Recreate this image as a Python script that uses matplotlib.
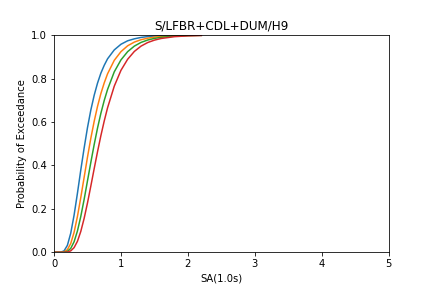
import matplotlib
matplotlib.use("Agg")
import matplotlib.pyplot as plt

# Intensity measure grid (SA at 1.0s, g) and fragility values
sa = [0.02, 0.1, 0.15, 0.2, 0.25, 0.3, 0.35, 0.4, 0.45, 0.5, 0.55, 0.6, 0.65,
      0.7, 0.75, 0.8, 0.9, 1.0, 1.1, 1.2, 1.3, 1.4, 1.5, 1.6, 1.8, 2.0, 2.2]

slight = [0.0, 0.0003, 0.0064, 0.032, 0.088, 0.171, 0.272, 0.379, 0.480, 0.574,
          0.655, 0.723, 0.779, 0.825, 0.861, 0.891, 0.932, 0.958, 0.974, 0.983,
          0.9895, 0.9933, 0.9957, 0.9972, 0.9988, 0.9995, 0.9997]
moderate = [0.0, 0.0001, 0.0018, 0.012, 0.0405, 0.092, 0.165, 0.252, 0.345, 0.438,
            0.525, 0.603, 0.672, 0.731, 0.780, 0.822, 0.884, 0.924, 0.951, 0.968,
            0.979, 0.986, 0.991, 0.994, 0.9973, 0.9987, 0.9994]
extensive = [0.0, 0.0, 0.0005, 0.0043, 0.018, 0.0485, 0.098, 0.165, 0.2435, 0.329,
             0.414, 0.496, 0.572, 0.640, 0.699, 0.750, 0.831, 0.886, 0.924, 0.9495,
             0.9665, 0.9776, 0.985, 0.990, 0.9954, 0.9979, 0.999]
complete = [0.0, 0.0, 0.0001, 0.0012, 0.0066, 0.0214, 0.0505, 0.096, 0.156, 0.227,
            0.305, 0.385, 0.463, 0.537, 0.6045, 0.6655, 0.765, 0.838, 0.889, 0.925,
            0.9495, 0.966, 0.977, 0.9846, 0.993, 0.9967, 0.9984]

fig, ax = plt.subplots(figsize=(6, 4), dpi=72)
fig.subplots_adjust(left=0.125, right=0.9, top=0.878, bottom=0.124)

for curve in [slight, moderate, extensive, complete]:
    ax.plot(sa, curve)

ax.set_xlim(0, 5)
ax.set_ylim(0, 1)
ax.set_title("S/LFBR+CDL+DUM/H9")
ax.set_xlabel("SA(1.0s)")
ax.set_ylabel("Probability of Exceedance")

fig.savefig("out.png", dpi=72)
